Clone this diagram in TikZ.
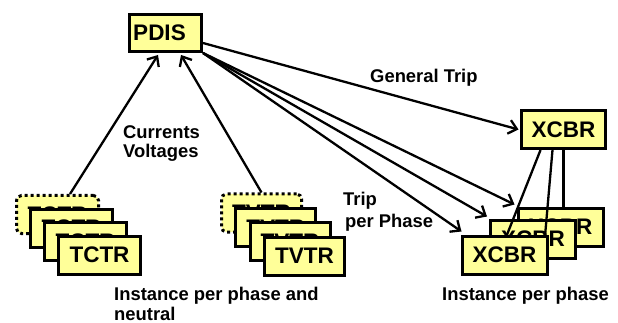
\documentclass[tikz,border=0pt]{standalone}
\usepackage{fontspec}
\setmainfont{Liberation Sans}
\usetikzlibrary{arrows.meta}
\definecolor{boxyellow}{HTML}{FFFF99}
\tikzset{
 box/.style={draw, line width=3pt, fill=boxyellow, inner sep=0pt, minimum height=38pt, font=\fontsize{22.5}{26}\selectfont\bfseries},
 dotbox/.style={box, dash pattern=on 3pt off 3pt, rounded corners=5pt},
 lbl/.style={anchor=base west, inner sep=0pt, font=\fontsize{18.4}{20}\selectfont\bfseries},
 arr/.style={line width=2.3pt, -{Straight Barb[length=8pt,width=14pt]}},
 ln/.style={line width=2.3pt},
}
\begin{document}
\begin{tikzpicture}[x=1pt,y=-1pt]
\useasboundingbox (0,0) rectangle (618,323);
\fill[white] (0,0) rectangle (618,323);
% PDIS
\node[box, minimum width=72pt, minimum height=37pt] (pdis) at (165.5,33) {PDIS\hspace*{12pt}};
% TCTR stack
\node[dotbox, minimum width=82pt] (tc0) at (57.5,214.5) {TCTR};
\node[box, minimum width=82pt] (tc1) at (71.5,228) {TCTR};
\node[box, minimum width=82pt] (tc2) at (85.5,241.5) {TCTR};
\node[box, minimum width=82pt] (tc3) at (99.5,255) {TCTR};
% TVTR stack
\node[dotbox, minimum width=80pt] (tv0) at (261.5,213) {TVTR};
\node[box, minimum width=80pt] (tv1) at (275.8,227.3) {TVTR};
\node[box, minimum width=80pt] (tv2) at (290.1,241.6) {TVTR};
\node[box, minimum width=80pt] (tv3) at (304.5,256) {TVTR};
% XCBR
\coordinate (xb1c) at (504.5,255);
\node[box, minimum width=84pt] (xt) at (563.5,129.5) {XCBR};
\node[box, minimum width=85pt] (xb3) at (560.5,227) {XCBR};
\node[box, minimum width=85pt] (xb2) at (533,239) {XCBR};
\draw[ln] (xt.south) -- (xt.south |- xb3.north);
\draw[ln] ([xshift=-11pt]xt.south) -- ([shift={(40,-13)}]xb1c);
\draw[ln] ([xshift=-23pt]xt.south) -- ([shift={(2,-19)}]xb1c);
\node[box, minimum width=85pt] (xb1) at (xb1c) {XCBR};
% arrows
\draw[arr] ([xshift=12.5pt]tc0.north) -- ([xshift=-7.5pt,yshift=-2pt]pdis.south);
\draw[arr] (tv0.north) -- ([xshift=15.5pt,yshift=-2pt]pdis.south);
\draw[arr] ([yshift=-10pt]pdis.east) -- ([xshift=-1.5pt]xt.west);
\draw[arr] (pdis.south east) -- ([xshift=-2pt,yshift=2pt]xb3.north west);
\draw[arr] (pdis.south east) -- ([xshift=-2pt,yshift=2pt]xb2.north west);
\draw[arr] (pdis.south east) -- ([xshift=1pt,yshift=3pt]xb1.north west);
% labels
\node[lbl] (cur) at (123,139) {Currents};
\node[lbl] (vol) at (123,157.5) {Voltages};
\node[lbl] (gt) at (370,83) {General Trip};
\node[lbl] (trip) at (343,205) {Trip};
\node[lbl] (pph) at (345,227) {per Phase};
\node[lbl] (ipn) at (114,300) {Instance per phase and};
\node[lbl] (neu) at (114,320) {neutral};
\node[lbl] (ipp) at (442,300) {Instance per phase};
\end{tikzpicture}
\end{document}
